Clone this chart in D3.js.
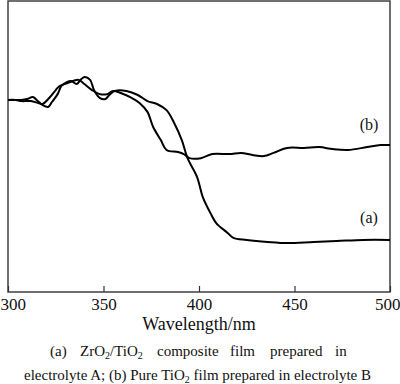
<!DOCTYPE html>
<html>
<head>
<meta charset="utf-8">
<script src="https://cdn.jsdelivr.net/npm/d3@7"></script>
<style>
  body { margin: 0; background: #fff; }
  svg { display: block; }
  text { font-family: "Liberation Serif", "Times New Roman", serif; fill: #111; }
</style>
</head>
<body>
<script>
// absorbance (a.u.)
const wlA = [300, 304, 307, 310, 313, 315, 318, 321, 323, 326, 328, 331, 333, 336, 338, 340, 343, 345, 348, 351, 353, 356, 362, 368, 373, 378, 383, 387, 391, 394, 399, 402, 406, 409, 415, 418, 425, 436, 446, 460, 472, 486, 500];
const absA = [0.660, 0.660, 0.660, 0.663, 0.670, 0.660, 0.643, 0.636, 0.653, 0.680, 0.708, 0.722, 0.725, 0.715, 0.729, 0.739, 0.729, 0.694, 0.667, 0.663, 0.677, 0.691, 0.691, 0.677, 0.656, 0.646, 0.625, 0.581, 0.522, 0.460, 0.395, 0.326, 0.271, 0.237, 0.203, 0.186, 0.179, 0.172, 0.168, 0.172, 0.175, 0.179, 0.179];

const wlB = [300, 304, 307, 312, 316, 318, 322, 325, 327, 330, 334, 337, 340, 344, 348, 352, 355, 359, 364, 369, 373, 376, 380, 383, 389, 392, 395, 401, 407, 416, 422, 428, 434, 439, 446, 455, 463, 470, 478, 488, 495, 500];
const absB = [0.660, 0.660, 0.656, 0.656, 0.649, 0.646, 0.670, 0.694, 0.708, 0.715, 0.725, 0.729, 0.715, 0.694, 0.680, 0.680, 0.691, 0.684, 0.670, 0.649, 0.619, 0.567, 0.522, 0.488, 0.481, 0.474, 0.460, 0.460, 0.474, 0.474, 0.478, 0.471, 0.467, 0.478, 0.495, 0.495, 0.498, 0.491, 0.488, 0.498, 0.505, 0.505];

const xTicks = [300, 350, 400, 450, 500];
const curveLabels = ["(a)", "(b)"];
const labelAt = [0.22, 0.54];

const W = 400, H = 384;
const mL = 8, mR = 390, mT = 1, mB = 292;

const svg = d3.select("body").append("svg").attr("width", W).attr("height", H);

let x = d3.scaleLinear().domain([300, 500]).range([mL, mR]);
let y = d3.scaleLinear().domain([0, 1]).range([mB, mT]);

// frame
svg.append("rect")
    .attr("x", mL).attr("y", mT)
    .attr("width", mR - mL).attr("height", mB - mT)
    .attr("fill", "none").attr("stroke", "#333").attr("stroke-width", 1.4);

// bottom axis, ticks pointing inward
let axis = svg.append("g").attr("transform", `translate(0,${mB})`)
    .call(d3.axisBottom(x).tickValues(xTicks).tickSizeInner(-6).tickSizeOuter(0).tickPadding(6));
axis.select(".domain").remove();
axis.selectAll("line").attr("stroke", "#333").attr("stroke-width", 1.2);
axis.selectAll("text").attr("font-size", 17).attr("font-family", "Liberation Serif").attr("fill", "#111");
// end labels sit against the page edges
axis.selectAll("text").filter(d => d === 300).attr("text-anchor", "start").attr("x", -mL);
axis.selectAll("text").filter(d => d === 500).attr("text-anchor", "end").attr("x", W - mR);

svg.append("text").attr("x", 199).attr("y", 330).attr("text-anchor", "middle")
    .attr("font-size", 18).text("Wavelength/nm");

// curves
let line = d3.line().x(d => x(d[0])).y(d => y(d[1])).curve(d3.curveCatmullRom.alpha(0.5));
let series = [d3.zip(wlA, absA), d3.zip(wlB, absB)];
svg.append("g").selectAll("path").data(series).join("path")
    .attr("d", line).attr("fill", "none").attr("stroke", "#000").attr("stroke-width", 2);

svg.append("g").selectAll("text").data(curveLabels).join("text")
    .attr("x", 369).attr("y", (d, i) => y(labelAt[i]) - 5)
    .attr("text-anchor", "middle").attr("font-size", 16)
    .text(d => d);

// caption
let cap1 = [
    { t: "(a)", x: 50 },
    { t: "ZrO|2|/TiO|2", x: 80 },
    { t: "composite", x: 157 },
    { t: "film", x: 230 },
    { t: "prepared", x: 270 },
    { t: "in", x: 335 }
];
let c1 = svg.append("g").selectAll("text").data(cap1).join("text")
    .attr("x", d => d.x).attr("y", 356).attr("font-size", 15);
c1.each(function (d) {
    let parts = d.t.split("|");
    let el = d3.select(this);
    parts.forEach((p, i) => {
        let ts = el.append("tspan").text(p);
        if (p === "2") ts.attr("font-size", 10).attr("dy", 3);
        else if (i > 0) ts.attr("dy", -3);
    });
});

let c2 = svg.append("text").attr("x", 24).attr("y", 380).attr("font-size", 15);
c2.append("tspan").text("electrolyte A; (b) Pure TiO");
c2.append("tspan").text("2").attr("font-size", 10).attr("dy", 3);
c2.append("tspan").text(" film prepared in electrolyte B").attr("dy", -3);
</script>
</body>
</html>
